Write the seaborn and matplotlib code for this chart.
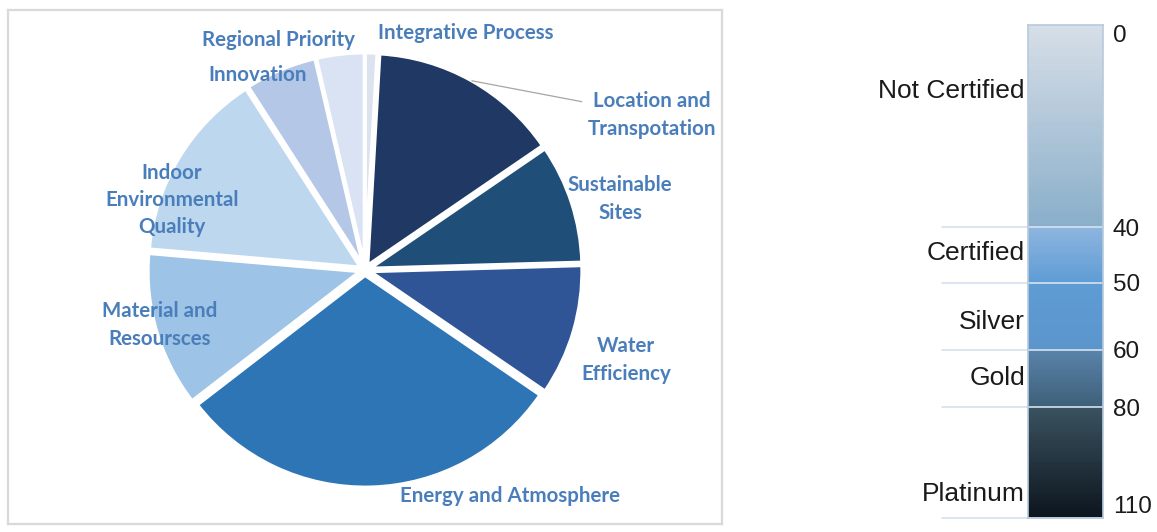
import numpy as np
import matplotlib
matplotlib.use("Agg")
import matplotlib.pyplot as plt
import seaborn as sns
from matplotlib.colors import LinearSegmentedColormap

# ---------------- data ----------------
categories = ["Integrative Process", "Location and\nTranspotation", "Sustainable\nSites",
              "Water\nEfficiency", "Energy and Atmosphere", "Material and\nResoursces",
              "Indoor\nEnvironmental\nQuality", "Innovation", "Regional Priority"]
points = [1, 16, 10, 11, 33, 13, 16, 6, 4]

levels = ["Not Certified", "Certified", "Silver", "Gold", "Platinum"]
level_lower = [0, 40, 50, 60, 80]
level_upper = [40, 50, 60, 80, 110]
tick_values = [0, 40, 50, 60, 80, 110]

# ---------------- styles ----------------
slice_colors = ["#dde3ee", "#203864", "#1f4e79", "#2f5597", "#2e75b6",
                "#9dc3e6", "#bdd7ee", "#b4c7e7", "#dae3f3"]
label_color = "#4a7ebb"
# label anchor positions (pie radius units, relative to the pie centre)
label_xy = [(0.476, 1.118), (1.354, 0.731), (1.203, 0.335), (1.231, -0.425),
            (0.684, -1.066), (-0.967, -0.259), (-0.910, 0.330), (-0.505, 0.920),
            (-0.410, 1.085)]
seg_top_colors = ["#d6dee7", "#8db5df", "#5f9cd4", "#5983aa", "#39525f"]
seg_bot_colors = ["#8aafca", "#5f9cd5", "#5b95cc", "#3e6079", "#0d151e"]
scale_frac = [0, 0.410, 0.523, 0.659, 0.775, 1.0]   # visual spacing of the bar
level_label_pos = [13, 44.6, 55.8, 69.7, 103.6]

sns.set_theme(style="white")
plt.rcParams["font.family"] = ["Liberation Sans", "DejaVu Sans"]

fig = plt.figure(figsize=(11.57, 5.32), dpi=100)

# ---------------- pie ----------------
ax = fig.add_axes([8 / 1157, 8 / 532, 714 / 1157, 514 / 532])
wedges, _ = ax.pie(points, colors=slice_colors, startangle=90, counterclock=False,
                   explode=[0.025] * len(points), radius=1.0,
                   wedgeprops=dict(edgecolor="white", linewidth=2.5))
ax.set_aspect("auto")
R = 212.0
ax.set_xlim(-357 / R, 357 / R)
ax.set_ylim(-254 / R, 260 / R)
ax.set_frame_on(True)
for sp in ax.spines.values():
    sp.set_color("#d9d9d9")
    sp.set_linewidth(1.6)

lab_kw = dict(ha="center", va="center", color=label_color, fontsize=14.8,
              fontweight="bold", family=["Lato", "DejaVu Sans"], linespacing=1.45)
for i, (name, (tx, ty)) in enumerate(zip(categories, label_xy)):
    if i == 1:
        w = wedges[i]
        th = np.deg2rad((w.theta1 + w.theta2) / 2)
        cx, cy = w.center
        px, py = cx + w.r * np.cos(th), cy + w.r * np.sin(th)
        ax.annotate(name, xy=(px, py), xytext=(tx, ty),
                    arrowprops=dict(arrowstyle="-", color="#a6a6a6", lw=0.9,
                                    shrinkA=2, shrinkB=0), **lab_kw)
    else:
        ax.text(tx, ty, name, **lab_kw)

# ---------------- certification bar ----------------
bx = fig.add_axes([1028 / 1157, (532 - 518) / 532, 75 / 1157, 493 / 532])


def fwd(v):
    return np.interp(np.asarray(v, dtype=float), tick_values, scale_frac)


def inv(f):
    return np.interp(np.asarray(f, dtype=float), scale_frac, tick_values)


bx.set_yscale("function", functions=(fwd, inv))

for lo, hi, ct, cb in zip(level_lower, level_upper, seg_top_colors, seg_bot_colors):
    cmap = LinearSegmentedColormap.from_list("seg", [ct, cb])
    y = np.linspace(lo, hi, 60)
    C = np.linspace(0, 1, 59).reshape(-1, 1)
    bx.pcolormesh([0, 1], y, C, cmap=cmap, shading="flat", vmin=0, vmax=1)

bx.set_xlim(0, 1)
bx.set_ylim(110, 0)
bx.set_xticks([])
for sp in bx.spines.values():
    sp.set_color("#b8cadb")
    sp.set_linewidth(1.2)

for v in tick_values[1:]:
    bx.axhline(v, xmin=-86 / 75, xmax=1, color="#d6e2ef", lw=1.2, clip_on=False)

bx.yaxis.tick_right()
bx.set_yticks(tick_values)
bx.set_yticklabels([str(v) for v in tick_values])
bx.tick_params(axis="y", length=0, pad=7, labelsize=17.5, labelcolor="#1a1a1a")
tl = bx.get_yticklabels()
tl[0].set_verticalalignment("top")
tl[-1].set_verticalalignment("bottom")

for name, pos in zip(levels, level_label_pos):
    bx.text(-0.04, pos, name, transform=bx.get_yaxis_transform(), ha="right",
            va="center", fontsize=19, color="#1a1a1a")

fig.savefig("out.png", dpi=100)
